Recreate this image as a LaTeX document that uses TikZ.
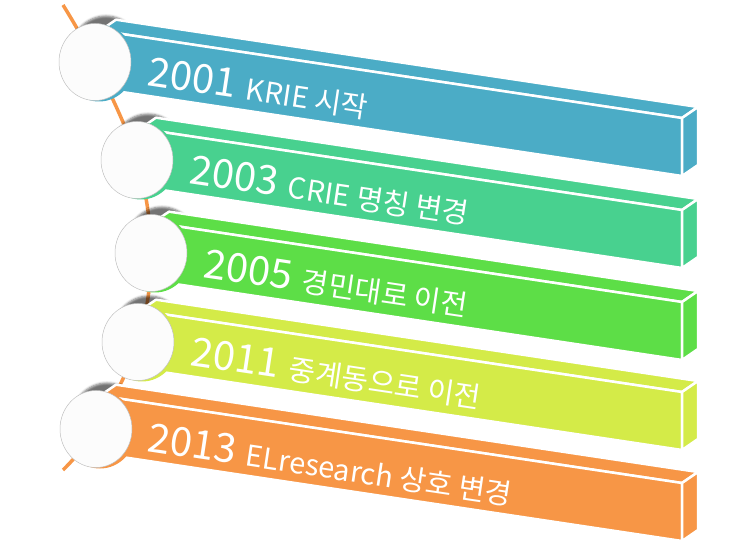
\documentclass[tikz,border=0pt]{standalone}
\usepackage{fontspec}
\setmainfont{Noto Sans CJK KR}
\usetikzlibrary{positioning,shapes.geometric,shadows.blur}

\definecolor{barblue}{HTML}{4BACC6}
\definecolor{barteal}{HTML}{48D18F}
\definecolor{bargreen}{HTML}{5DDE47}
\definecolor{barlime}{HTML}{D4EB48}
\definecolor{barorange}{HTML}{F79646}

\tikzset{
	face/.style={fill=#1,draw=white,line width=2.5pt,line join=round},
	dot/.style={ellipse,minimum width=72pt,minimum height=77pt,inner sep=0pt},
	rim/.style={dot,fill=#1},
	knob/.style={dot,draw=gray!50,line width=0.5pt,fill=white!98!gray},
	timeline/.style={draw=barorange,line width=3.5pt},
	yeartext/.style={anchor=base west,rotate=-8.53,text=white,inner sep=0pt}
}

\begin{document}
\begin{tikzpicture}[x=1pt,y=-1pt]
	\useasboundingbox (0,0) rectangle (740,556);
	\foreach \n/\cx/\cy in {1/95/62,2/137/160,3/151/253,4/138/342,5/96/429}
		\coordinate (p\n) at (\cx,\cy);
	\coordinate (ltop) at (63,5);
	\coordinate (lbot) at (63,470);
	\draw[timeline] plot[smooth,tension=0.6] coordinates {(ltop) (p1) (p2) (p3) (p4) (p5) (lbot)};

	\foreach \n in {1,...,5}
		\path[blur shadow={shadow xshift=11pt,shadow yshift=8pt,shadow opacity=55}] (p\n) ellipse [x radius=36,y radius=38];

	\foreach \col/\xl/\yr in {barblue/100/118,barteal/140/210,bargreen/153/302,barlime/140/392,barorange/100/483}{
		\pgfmathsetmacro\yl{\yr-0.15*(682-\xl)}
		\draw[face=\col] (\xl,\yl) -- (682,\yr) -- (698,\yr-11) -- (\xl+16,\yl-11) -- cycle;
		\draw[face=\col] (\xl,\yl) -- (682,\yr) -- (682,\yr+58) -- (\xl,\yl+58) -- cycle;
		\draw[face=\col] (682,\yr) -- (698,\yr-11) -- (698,\yr+47) -- (682,\yr+58) -- cycle;
	}

	\foreach \n/\col in {1/barblue,2/barteal,3/bargreen,4/barlime,5/barorange}{
		\node[rim=\col,xshift=4pt,yshift=-1pt] (r\n) at (p\n) {};
		\node[knob] (c\n) at (p\n) {};
	}

	\foreach \n/\x/\y/\yy/\lbl in {1/146/85/2001/KRIE 시작,2/188/183/2003/CRIE 명칭 변경,3/202/277/2005/경민대로 이전,4/189/365/2011/중계동으로 이전,5/146/451/2013/ELresearch 상호 변경}
		\node[yeartext] (t\n) at (\x,\y) {{\fontsize{40}{40}\selectfont\yy}\hspace{11pt}{\fontsize{29}{29}\selectfont\lbl}};
\end{tikzpicture}
\end{document}
